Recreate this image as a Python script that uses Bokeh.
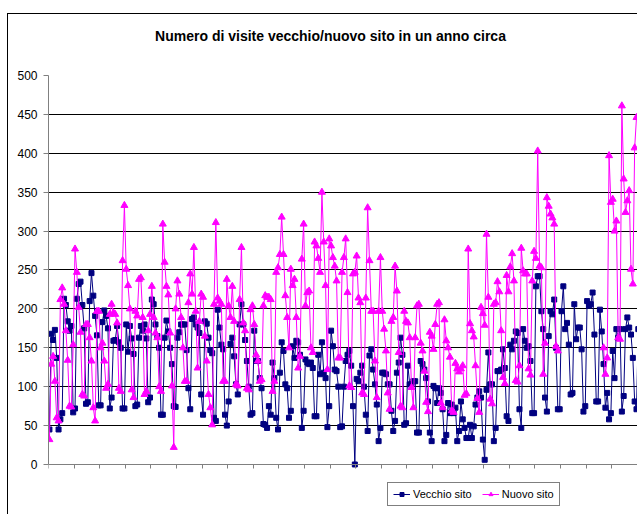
import numpy as np
from bokeh.plotting import figure
from bokeh.models import (Range1d, FixedTicker, Legend, LegendItem,
                          ColumnDataSource, Label)
from bokeh.embed import file_html
from bokeh.resources import INLINE

title_text = "Numero di visite vecchio/nuovo sito in un anno circa"
series_names = ["Vecchio sito", "Nuovo sito"]
y_ticks = [0, 50, 100, 150, 200, 250, 300, 350, 400, 450, 500]

# daily visits, old site
vecchio = [
    45, 168, 160, 173, 137, 45, 58,
    66, 213, 205, 184, 172, 178, 67,
    72, 213, 232, 235, 205, 175, 78,
    80, 210, 246, 217, 191, 166, 76,
    76, 183, 198, 191, 175, 72, 86,
    159, 160, 178, 157, 150, 72, 72,
    180, 145, 178, 162, 142, 75, 77,
    163, 178, 172, 180, 162, 80, 86,
    212, 206, 180, 165, 150, 64, 64,
    163, 185, 171, 150, 129, 75, 74,
    163, 170, 180, 180, 180, 147, 98,
    71, 187, 189, 180, 176, 169, 90,
    64, 184, 181, 163, 147, 143, 60,
    56, 199, 176, 154, 148, 64, 50,
    81, 155, 163, 139, 103, 90, 180,
    206, 180, 160, 133, 100, 64, 66,
    172, 133, 133, 111, 98, 52, 51,
    47, 75, 64, 131, 111, 60, 45,
    118, 157, 146, 103, 98, 60, 69,
    152, 137, 159, 157, 141, 47, 69,
    135, 131, 129, 131, 124, 62, 62,
    141, 116, 157, 118, 111, 48, 75,
    172, 152, 122, 120, 100, 48, 49,
    100, 133, 141, 146, 127, 75, 0,
    110, 107, 118, 127, 100, 64, 43,
    140, 148, 122, 103, 77, 30, 47,
    118, 118, 116, 103, 103, 69, 43,
    56, 118, 131, 163, 141, 51, 53,
    127, 103, 103, 107, 107, 41, 41,
    133, 129, 122, 111, 81, 41, 30,
    101, 98, 79, 98, 92, 71, 30,
    38, 79, 66, 77, 66, 73, 30,
    43, 81, 58, 47, 34, 34, 51,
    34, 49, 77, 86, 94, 86, 32,
    6, 96, 144, 103, 103, 30, 47,
    120, 120, 122, 148, 124, 62, 56,
    154, 148, 159, 171, 169, 71, 47,
    174, 159, 150, 152, 133, 66, 66,
    229, 242, 242, 197, 174, 86, 68,
    165, 197, 193, 212, 150, 71, 71,
    197, 229, 174, 182, 154, 90, 92,
    206, 161, 176, 176, 148, 68, 75,
    210, 204, 206, 221, 167, 81, 81,
    199, 171, 129, 73, 92, 58, 66,
    146, 111, 174, 163, 174, 68, 88,
    174, 189, 176, 167, 137, 81, 71,
    174, 150, 160,
]

# daily visits, new site (None = no value)
nuovo = [
    32, 129, 139, 107, 60, 56, 212,
    227, 206, 172, 134, 75, 74, 154,
    277, 247, 202, 170, 90, 88, 180,
    180, 163, 133, 73, 56, 197, 197,
    150, 156, 133, 98, 103, 193, 206,
    195, 193, 182, 98, 94, 262, 333,
    251, 230, 200, 96, 86, 197, 191,
    238, 240, 189, 90, 94, 172, 193,
    229, 189, 169, 163, 100, 94, 309,
    260, 229, 218, 169, 101, 22, 200,
    236, 219, 189, 150, 107, 107, 208,
    245, 219, 279, 197, 124, 184, 219,
    215, 165, 133, 90, 73, 51, 206,
    311, 214, 210, 206, 107, 107, 238,
    204, 189, 229, 184, 103, 101, 212,
    279, 182, 172, 98, 96, 199, 204,
    180, 141, 133, 107, 109, 204, 217,
    215, 215, 212, 94, 107, 247, 253,
    270, 318, 270, 217, 189, 150, 251,
    230, 238, 189, 124, 139, 264, 309,
    204, 221, 223, 150, 144, 286, 281,
    265, 247, 350, 286, 230, 122, 290,
    281, 266, 255, 236, 137, 137, 247,
    266, 290, 221, 101, 99, 245, 247,
    268, 214, 208, 92, 90, 214, 330,
    262, 197, 197, 133, 86, 197, 266,
    197, 174, 146, 92, 71, 184, 189,
    255, 223, 144, 75, 73, 197, 184,
    182, 163, 99, 73, 163, 204, 206,
    156, 146, 120, 80, 68, 170, 165,
    148, 180, 206, 208, 79, 73, 186,
    159, 150, 138, 69, 67, 130, 123,
    119, 123, 127, 89, 91, 277, 181,
    172, 164, 127, 85, 67, 202, 194,
    179, 296, 215, 84, 78, 206, 208,
    235, 222, 172, 112, 104, 243, 222,
    254, 271, 236, 108, 106, 127, 278,
    249, 245, 245, 123, 115, 236, 274,
    265, 403, 255, 253, 116, 156, 343,
    332, 322, 317, 309, 152, 146, None,
    None, None, None, None, None, None, None,
    None, None, None, None, None, None, None,
    None, None, None, None, None, None, None,
    None, None, 150, 116, 137, 397, 337,
    341, 300, 313, 163, 161, 461, 367,
    324, 339, 352, 251, 232, 407, 446,
]

FONT = "Liberation Sans"
NAVY = "#000080"
MAGENTA = "#FF00FF"

v_arr = np.array(vecchio, dtype=float)
n_arr = np.array([np.nan if v is None else v for v in nuovo], dtype=float)
src_v = ColumnDataSource(dict(x=np.arange(len(v_arr)) + 0.5, y=v_arr))
src_n = ColumnDataSource(dict(x=np.arange(len(n_arr)) + 0.5, y=n_arr))

# frame spans the whole canvas height (title and legend live inside it);
# value axis 0..500 maps to page y 464..75
p = figure(width=630, height=501, output_backend="svg", toolbar_location=None,
           x_range=Range1d(0, 322.6), y_range=Range1d(-55.3, 578.4),
           min_border_left=40, min_border_right=0, min_border_top=0,
           min_border_bottom=8)
p.styles = {"border-top": "1px solid #000000", "border-left": "1px solid #000000",
            "position": "relative", "left": "7px", "top": "13px"}
p.outline_line_color = None
p.background_fill_color = "white"
p.border_fill_color = "white"

p.add_layout(Label(x=154.2, y=551.4, text=title_text, text_align="center",
                   text_baseline="middle", text_font=FONT,
                   text_font_size="14px", text_font_style="bold",
                   text_color="#000000"))

# axes
p.yaxis.ticker = FixedTicker(ticks=y_ticks)
p.yaxis.bounds = (0, 500)
p.yaxis.major_label_text_font = FONT
p.yaxis.major_label_text_font_size = "12px"
p.yaxis.major_label_text_color = "#000000"
p.yaxis.axis_line_color = "#808080"
p.yaxis.major_tick_line_color = "#808080"
p.yaxis.major_tick_out = 5
p.yaxis.major_tick_in = 0
p.yaxis.minor_tick_line_color = None
p.yaxis.major_label_standoff = 6

p.xaxis.fixed_location = 0
p.xaxis.ticker = FixedTicker(ticks=list(range(0, 330, 14)))
p.xaxis.major_label_text_font_size = "1px"
p.xaxis.major_label_text_color = None
p.xaxis.major_label_standoff = 0
p.xaxis.axis_line_color = "#808080"
p.xaxis.major_tick_line_color = "#808080"
p.xaxis.major_tick_out = 4
p.xaxis.major_tick_in = 0
p.xaxis.minor_tick_line_color = None

p.xgrid.visible = False
p.ygrid.ticker = FixedTicker(ticks=y_ticks[1:-1])
p.ygrid.grid_line_color = "#000000"
p.ygrid.grid_line_width = 1

lv = p.line("x", "y", source=src_v, line_color=NAVY, line_width=1)
sv = p.scatter("x", "y", source=src_v, marker="square", size=5,
               fill_color=NAVY, line_color=NAVY)
ln = p.line("x", "y", source=src_n, line_color=MAGENTA, line_width=1)
sn = p.scatter("x", "y", source=src_n, marker="triangle", size=7,
               fill_color=MAGENTA, line_color=MAGENTA)

legend = Legend(items=[LegendItem(label=series_names[0], renderers=[lv, sv]),
                       LegendItem(label=series_names[1], renderers=[ln, sn])],
                orientation="horizontal", location=(339, 1),
                border_line_color="#000000", border_line_width=1,
                background_fill_color="white", background_fill_alpha=1,
                label_text_font=FONT, label_text_font_size="11px",
                label_text_color="#000000",
                glyph_width=17, glyph_height=10, label_standoff=3,
                spacing=10, padding=5, margin=0)
p.add_layout(legend)

open("out.html", "w").write(file_html(p, INLINE))
